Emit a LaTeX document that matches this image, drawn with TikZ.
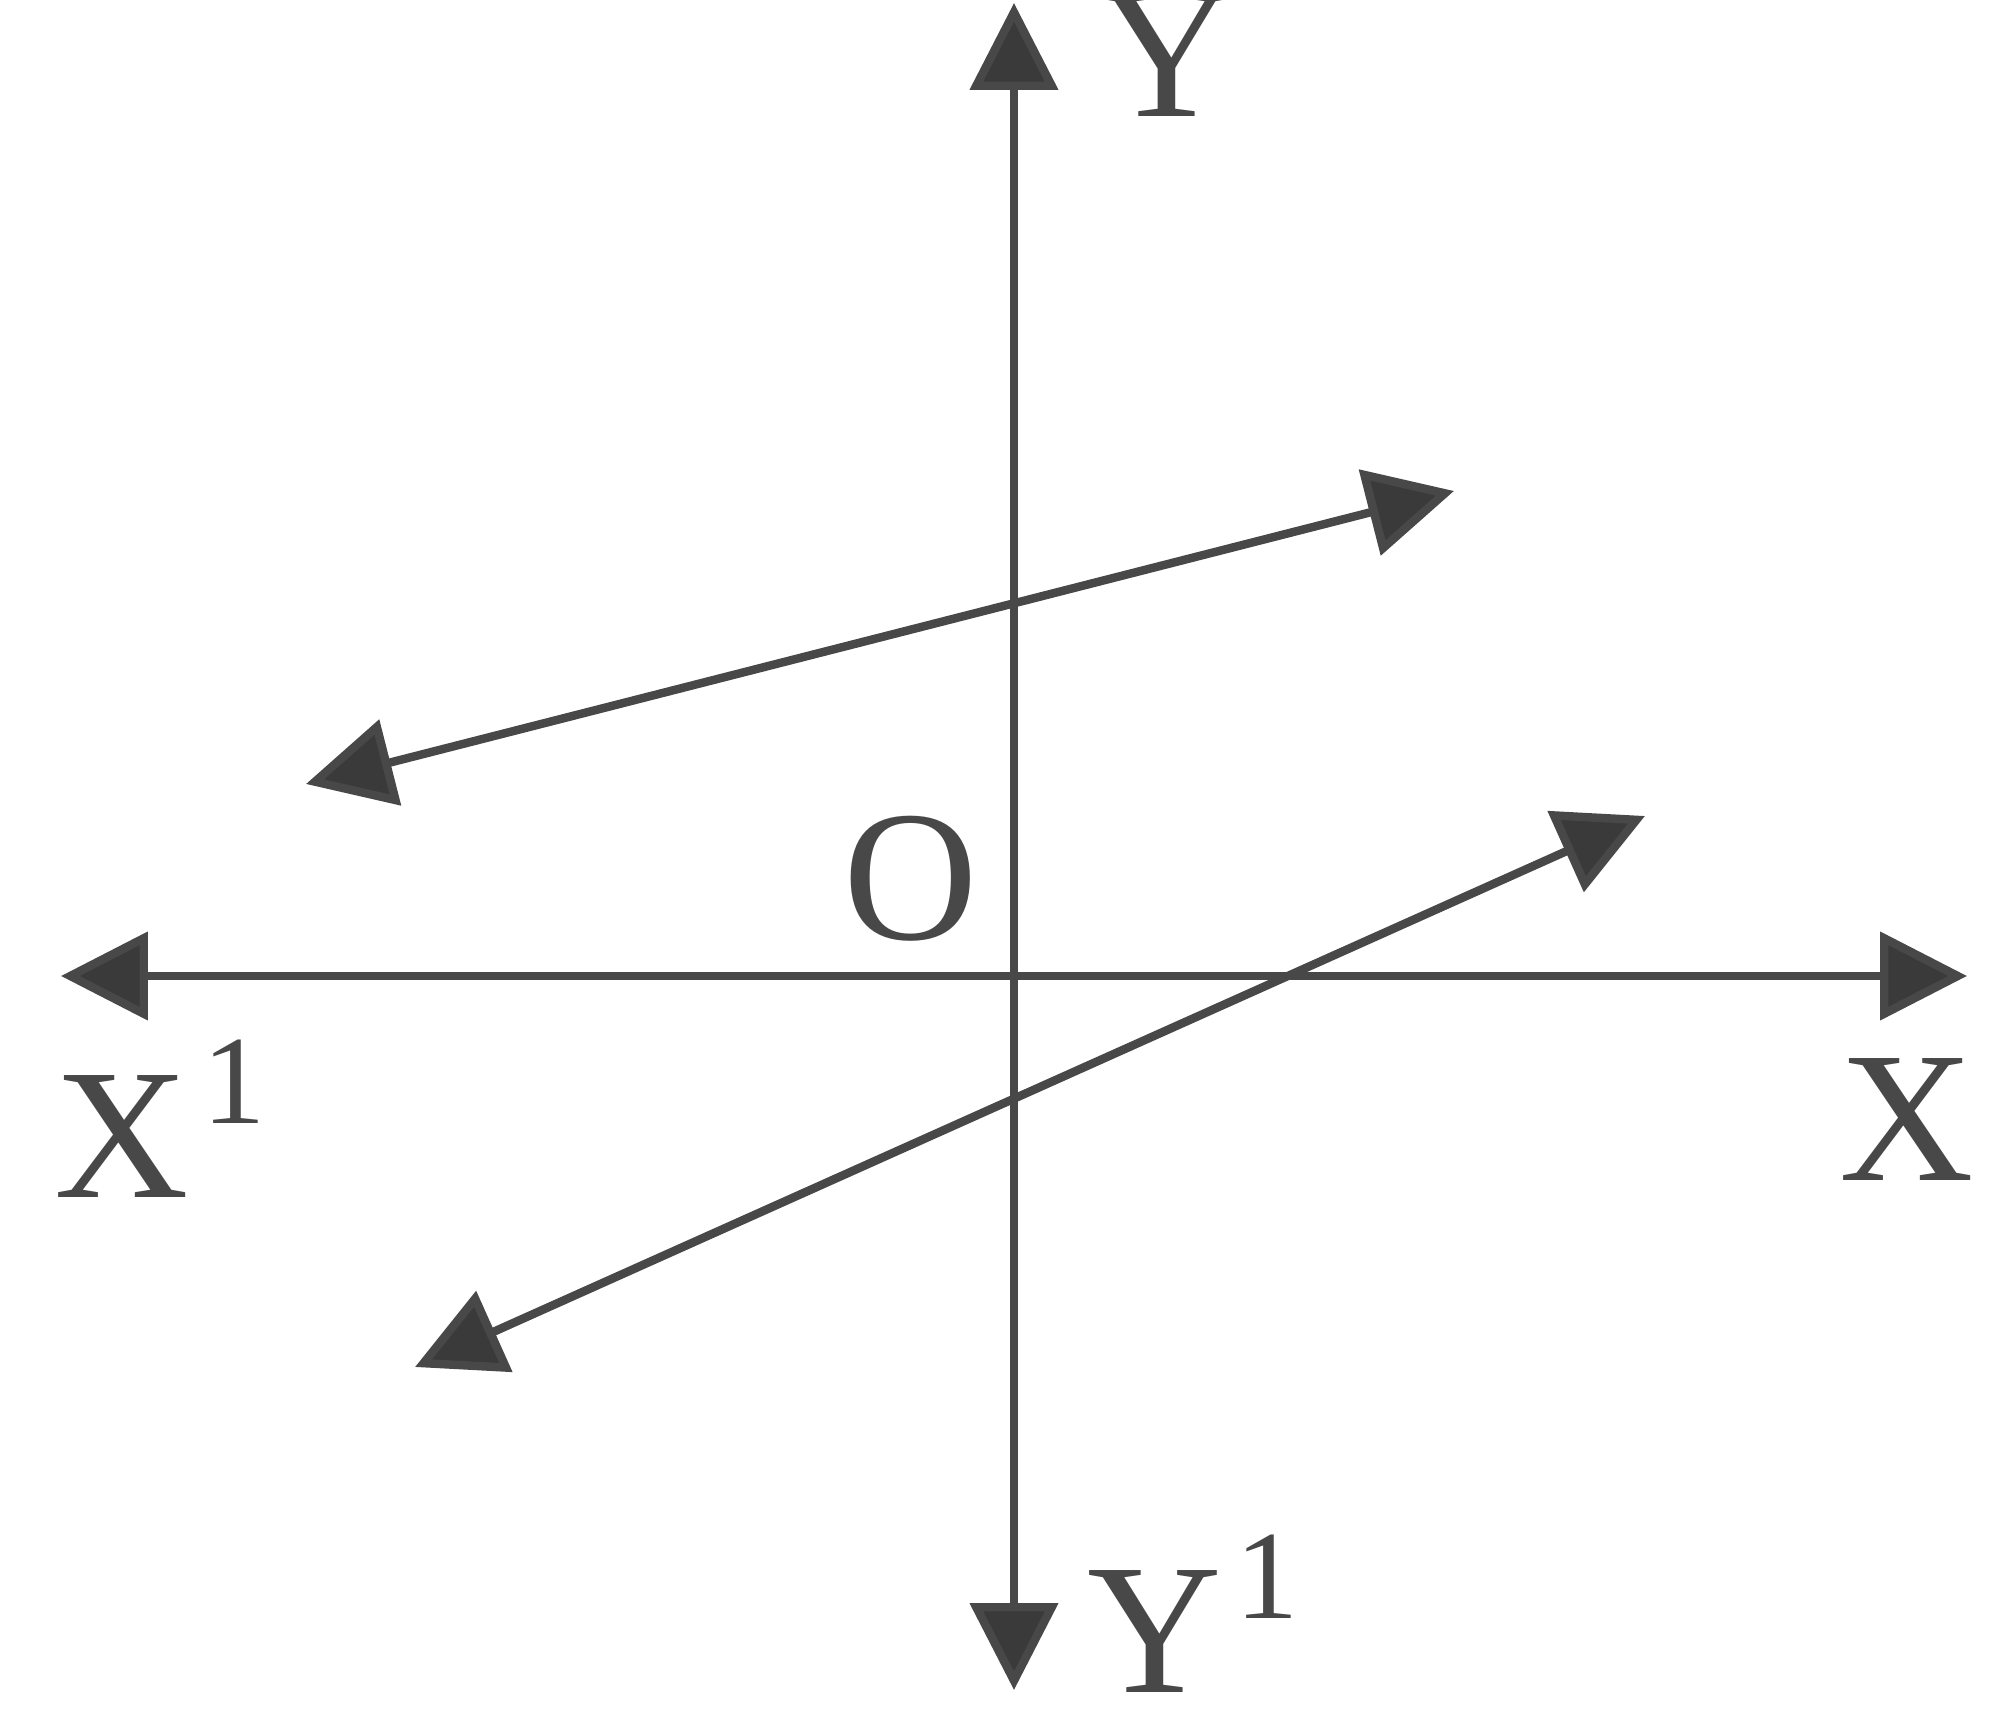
\documentclass[tikz,border=0pt]{standalone}
\usepackage{fontspec}
\setmainfont{Liberation Serif}
\usetikzlibrary{arrows.meta}
\definecolor{ink}{RGB}{72,72,72}
\definecolor{tipink}{RGB}{58,58,58}
\newcommand{\supone}{\hspace{4pt}\raisebox{21pt}{\fontsize{36}{40}\selectfont 1}}
\begin{document}
\begin{tikzpicture}[>={Triangle[length=8.7mm,width=8.7mm,fill=tipink]},inner sep=0pt,
  line width=2.4pt,color=ink,font=\fontsize{53}{60}\selectfont]
\useasboundingbox (-10.14,-7.50) rectangle (9.86,9.76);
\coordinate (o) at (0,0);
\coordinate (xr) at (9.53,0);
\coordinate (xl) at (-9.53,0);
\coordinate (yu) at (0,9.73);
\coordinate (yd) at (0,-7.14);
%
\coordinate (p1) at (-7.08,1.92);
\coordinate (p2) at (4.40,4.85);
\coordinate (q1) at (-5.99,-3.91);
\coordinate (q2) at (6.31,1.60);
%
\node[anchor=base] (lo) at (-1.03,0.36) {O};
\node[anchor=base] (lx) at (8.93,-2.04) {X};
\node[anchor=base west] (lxx) at (-9.64,-2.21) {X\supone};
\node[anchor=base] (ly) at (1.53,8.59) {Y};
\node[anchor=base west,text depth=0pt] (lyy) at (0.69,-7.16) {Y\supone};
%%
\draw[<->] (xl) -- (xr);
\draw[<->] (yd) -- (yu);
\draw[<->] (p1) -- (p2);
\draw[<->] (q1) -- (q2);
\end{tikzpicture}
\end{document}
